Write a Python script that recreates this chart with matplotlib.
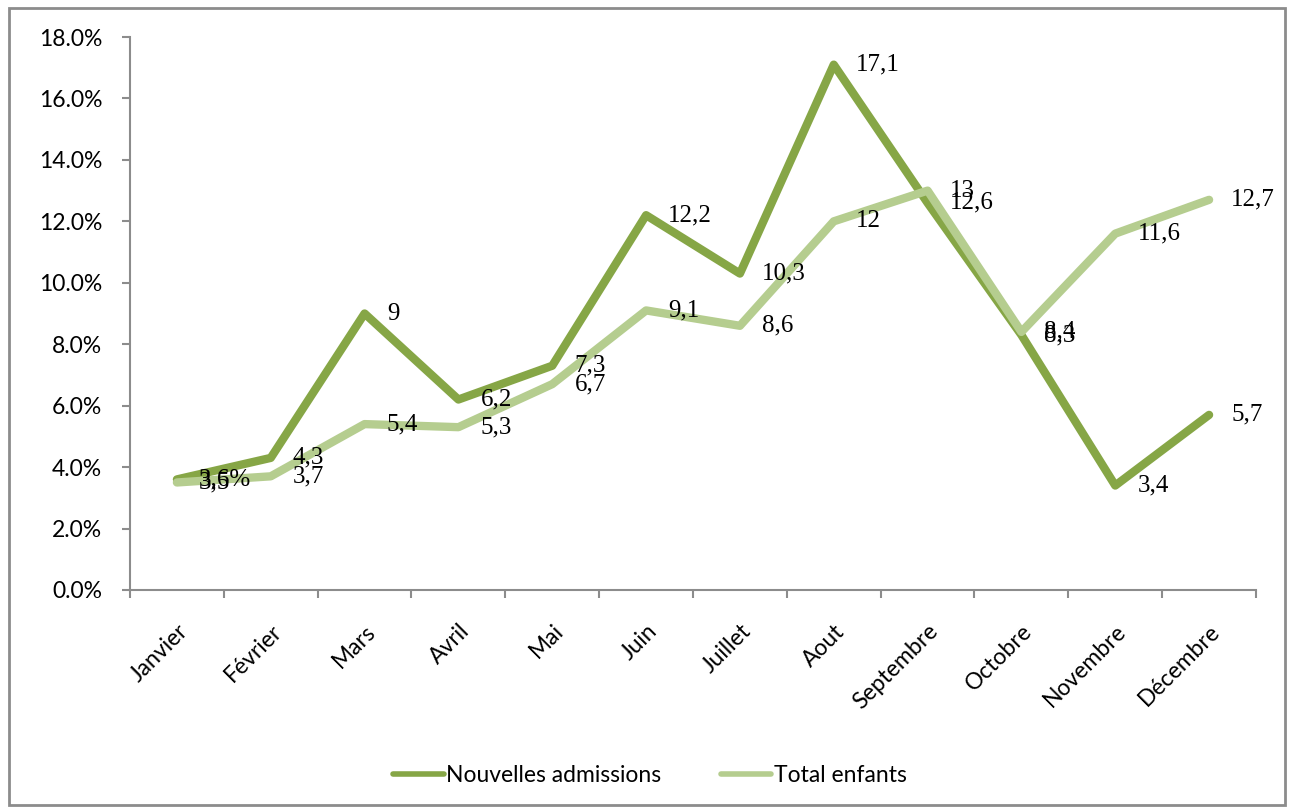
import matplotlib.pyplot as plt
from matplotlib.patches import Rectangle
from matplotlib.ticker import FuncFormatter, FixedLocator, NullFormatter


# DATA
MONTHS = ["Janvier", "Février", "Mars", "Avril", "Mai", "Juin", "Juillet",
          "Aout", "Septembre", "Octobre", "Novembre", "Décembre"]
NOUVELLES = [3.6, 4.3, 9, 6.2, 7.3, 12.2, 10.3, 17.1, 12.6, 8.3, 3.4, 5.7]
TOTAL = [3.5, 3.7, 5.4, 5.3, 6.7, 9.1, 8.6, 12, 13, 8.4, 11.6, 12.7]
LABELS_NOUVELLES = ["3,6%", "4,3", "9", "6,2", "7,3", "12,2", "10,3",
                    "17,1", "12,6", "8,3", "3,4", "5,7"]
LABELS_TOTAL = ["3,5", "3,7", "5,4", "5,3", "6,7", "9,1", "8,6",
                "12", "13", "8,4", "11,6", "12,7"]

DARK = "#86A646"
LIGHT = "#B5CD8F"
AXIS_GREY = "#8C8C8C"


def main():
    fig = plt.figure(figsize=(12.92, 8.11), dpi=100)
    ax = fig.add_axes([130 / 1292, 1 - 590 / 811, 1126 / 1292, 553 / 811])

    x = list(range(len(MONTHS)))

    ax.plot(x, NOUVELLES, color=DARK, linewidth=6,
            solid_capstyle="round", solid_joinstyle="round",
            label="Nouvelles admissions", zorder=3)
    ax.plot(x, TOTAL, color=LIGHT, linewidth=6,
            solid_capstyle="round", solid_joinstyle="round",
            label="Total enfants", zorder=4)

    # data labels to the right of each point
    for xi, v, lab in zip(x, NOUVELLES, LABELS_NOUVELLES):
        ax.annotate(lab, (xi, v), xytext=(16, 0), textcoords="offset points",
                    ha="left", va="center", fontsize=18,
                    family="Liberation Serif", zorder=5)
    for xi, v, lab in zip(x, TOTAL, LABELS_TOTAL):
        ax.annotate(lab, (xi, v), xytext=(16, 0), textcoords="offset points",
                    ha="left", va="center", fontsize=18,
                    family="Liberation Serif", zorder=5)

    ax.set_xlim(-0.5, len(MONTHS) - 0.5)
    ax.set_ylim(0, 18)

    # category boundaries as major ticks, names on minor ticks
    ax.xaxis.set_major_locator(FixedLocator([i - 0.5 for i in range(len(MONTHS) + 1)]))
    ax.xaxis.set_major_formatter(NullFormatter())
    ax.xaxis.set_minor_locator(FixedLocator(x))
    ax.set_xticklabels(MONTHS, minor=True, rotation=45, ha="right",
                       rotation_mode="anchor", fontsize=16.5, family="Lato")
    ax.tick_params(axis="x", which="minor", length=0, pad=22)
    ax.tick_params(axis="x", which="major", length=6, width=1.5,
                   color=AXIS_GREY, direction="out")

    ax.set_yticks([i * 2 for i in range(10)])
    ax.yaxis.set_major_formatter(FuncFormatter(lambda v, p: f"{v:.1f}%"))
    ax.tick_params(axis="y", length=6, width=1.5, color=AXIS_GREY,
                   direction="out", pad=14, labelsize=16.5)
    for t in ax.get_yticklabels():
        t.set_family("Lato")

    for side in ["top", "right"]:
        ax.spines[side].set_visible(False)
    for side in ["left", "bottom"]:
        ax.spines[side].set_color(AXIS_GREY)
        ax.spines[side].set_linewidth(1.5)

    fig.legend(loc="center", bbox_to_anchor=(0.503, 0.044), ncol=2,
               frameon=False, handlelength=2.2, columnspacing=2.6,
               handletextpad=0.1, prop={"family": "Lato", "size": 16.5})
    for line in fig.legends[0].get_lines():
        line.set_solid_capstyle("round")
        line.set_linewidth(4)

    # chart frame
    fig.patches.append(Rectangle((9 / 1292, 6 / 811), 1276 / 1292, 797 / 811,
                                 transform=fig.transFigure, fill=False,
                                 edgecolor=AXIS_GREY, linewidth=2))

    fig.savefig("out.png", dpi=100)
    plt.close(fig)


if __name__ == "__main__":
    main()
